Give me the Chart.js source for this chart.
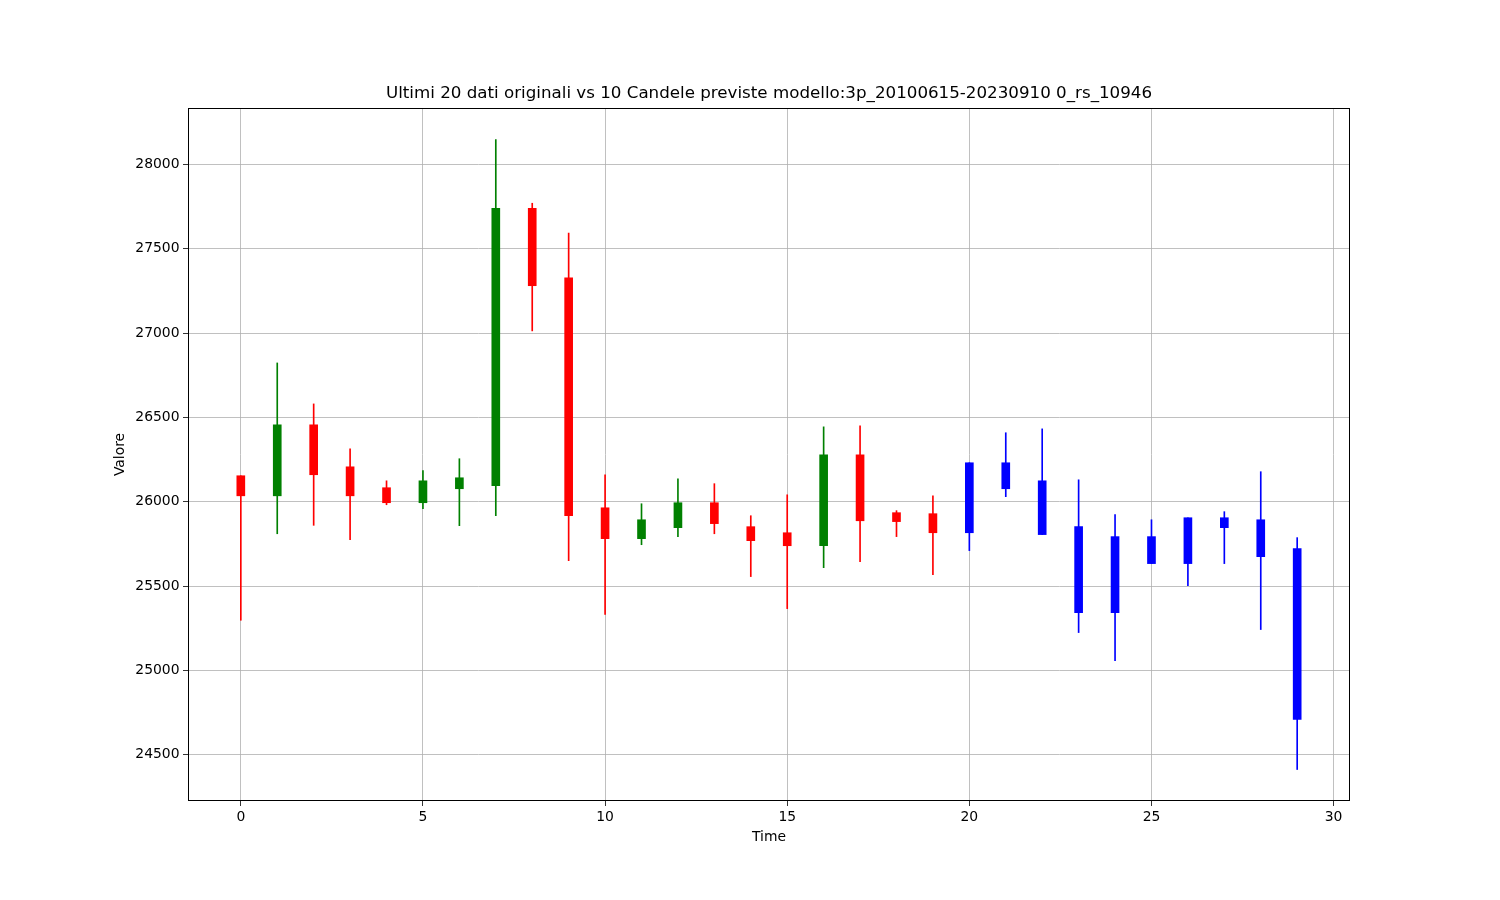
<!DOCTYPE html>
<html>
<head>
<meta charset="utf-8">
<script src="https://cdn.jsdelivr.net/npm/chart.js@4.4.1/dist/chart.umd.min.js"></script>
<style>
  html, body { margin: 0; padding: 0; background: #ffffff; }
  #c { display: block; }
</style>
</head>
<body>
<canvas id="c" width="1500" height="900"></canvas>
<script>
// ---- data ----
const times  = [0,1,2,3,4,5,6,7,8,9,10,11,12,13,14,15,16,17,18,19,20,21,22,23,24,25,26,27,28,29];
const opens  = [26154,26035,26456,26207,26083,25994,26077,26095,27740,27327,25964,25781,25846,25994,25852,25816,25739,26278,25935,25929,
                26231,26231,26124,25852,25793,25793,25905,25905,25893,25722];
const closes = [26035,26456,26160,26035,25994,26124,26142,27740,27281,25917,25781,25893,25994,25870,25769,25739,26278,25887,25882,25816,
                25816,26077,25805,25342,25342,25633,25633,25846,25674,24709];
const highs  = [26154,26823,26580,26314,26124,26184,26255,28148,27770,27593,26160,25988,26136,26107,25917,26041,26444,26450,25947,26035,
                26231,26409,26432,26130,25923,25893,25905,25941,26178,25787];
const lows   = [25297,25810,25860,25775,25982,25959,25858,25917,27013,25650,25331,25745,25793,25810,25556,25366,25609,25645,25793,25568,
                25710,26030,25805,25224,25058,25633,25502,25633,25242,24412];
const nOriginal = 20;
const xTicks = [0,5,10,15,20,25,30];
const yTicks = [24500,25000,25500,26000,26500,27000,27500,28000];
const titleText = "Ultimi 20 dati originali vs 10 Candele previste modello:3p_20100615-20230910 0_rs_10946";

// ---- derived ----
const colors = times.map((t, i) => i >= nOriginal ? '#0000ff' : (closes[i] >= opens[i] ? '#008000' : '#ff0000'));
const wickData = times.map((t, i) => ({ x: t, y: [lows[i], highs[i]] }));
const bodyData = times.map((t, i) => ({ x: t, y: [Math.min(opens[i], closes[i]), Math.max(opens[i], closes[i])] }));

const yMinD = Math.min(...lows), yMaxD = Math.max(...highs);
const ySpan = yMaxD - yMinD;
const xMinD = Math.min(...times), xMaxD = Math.max(...times);
const xSpan = xMaxD - xMinD;

const FONT = "'DejaVu Sans', sans-serif";

const framePlugin = {
  id: 'frame',
  afterDraw(chart) {
    const { ctx, chartArea: a } = chart;
    ctx.save();
    ctx.strokeStyle = '#000000';
    ctx.lineWidth = 1;
    ctx.strokeRect(Math.round(a.left) + 0.5, Math.round(a.top) + 0.5, Math.round(a.right - a.left) - 1, Math.round(a.bottom - a.top) - 1);
    // title centred over the plot area
    ctx.fillStyle = '#000000';
    ctx.font = "16.7px " + FONT;
    ctx.textAlign = 'center';
    ctx.textBaseline = 'middle';
    ctx.fillText(titleText, (a.left + a.right) / 2, a.top - 14);
    ctx.restore();
  }
};

new Chart(document.getElementById('c'), {
  type: 'bar',
  data: {
    datasets: [
      { label: 'wick', data: wickData, backgroundColor: colors, borderWidth: 0, barThickness: 1, grouped: false, order: 2 },
      { label: 'body', data: bodyData, backgroundColor: colors, borderWidth: 0, barThickness: 8, grouped: false, order: 1 }
    ]
  },
  options: {
    responsive: false,
    animation: false,
    layout: { padding: { top: 108, right: 150, left: 112, bottom: 54 } },
    plugins: {
      legend: { display: false },
      tooltip: { enabled: false },
      title: { display: false }
    },
    scales: {
      x: {
        type: 'linear',
        offset: false,
        min: xMinD - 0.05 * xSpan,
        max: xMaxD + 0.05 * xSpan,
        afterBuildTicks: (s) => { s.ticks = xTicks.map(v => ({ value: v })); },
        afterFit: (s) => { s.height = 45; },
        ticks: { includeBounds: false, color: '#000000', font: { family: FONT, size: 13.9 }, padding: 3, maxRotation: 0 },
        grid: { offset: false, color: '#b0b0b0', lineWidth: 0.8, drawTicks: true, tickLength: 5, tickColor: '#000000', tickWidth: 0.8 },
        border: { display: false },
        title: { display: true, text: 'Time', color: '#000000', font: { family: FONT, size: 13.9 }, padding: 0 }
      },
      y: {
        type: 'linear',
        min: yMinD - 0.05 * ySpan,
        max: yMaxD + 0.05 * ySpan,
        afterBuildTicks: (s) => { s.ticks = yTicks.map(v => ({ value: v })); },
        afterFit: (s) => { s.width = 76; },
        ticks: { includeBounds: false, color: '#000000', font: { family: FONT, size: 13.9 }, padding: 3.5, callback: (v) => String(v) },
        grid: { color: '#b0b0b0', lineWidth: 0.8, drawTicks: true, tickLength: 5, tickColor: '#000000', tickWidth: 0.8 },
        border: { display: false },
        title: { display: true, text: 'Valore', color: '#000000', font: { family: FONT, size: 13.9 }, padding: 0 }
      }
    }
  },
  plugins: [framePlugin]
});
</script>
</body>
</html>
